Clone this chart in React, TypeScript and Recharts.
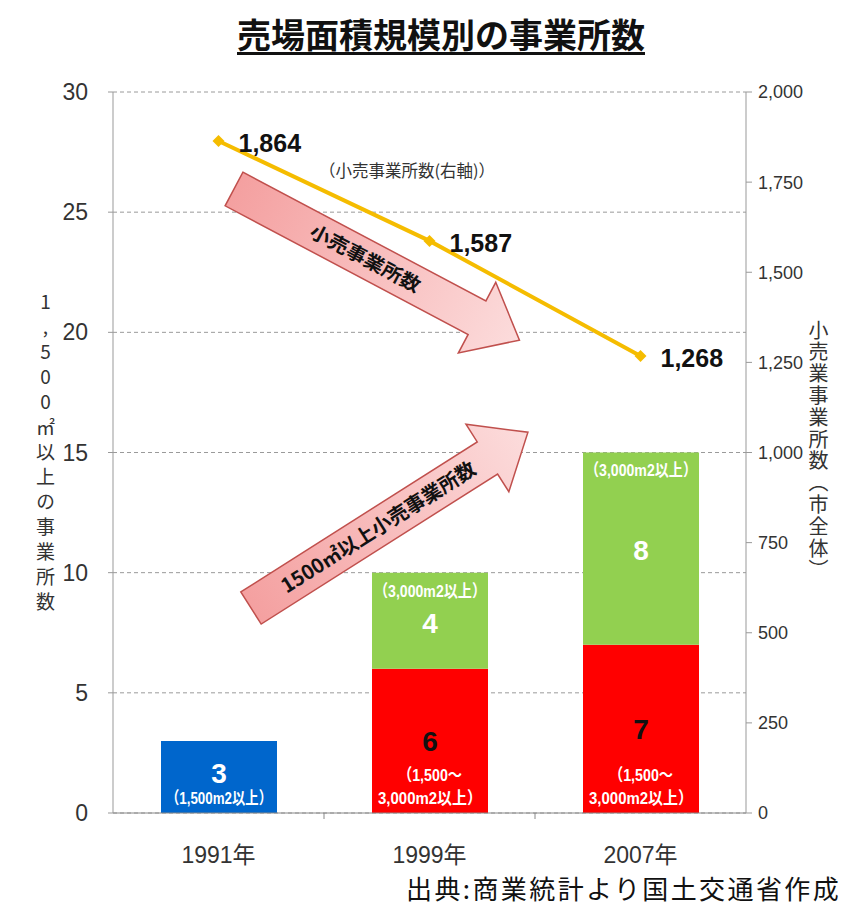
import React from "react";
import {
  ComposedChart,
  Bar,
  Line,
  XAxis,
  YAxis,
  CartesianGrid,
  LabelList,
} from "recharts";

// values
const years = ["1991年", "1999年", "2007年"];
const over1500 = [3, null, null];
const from1500to3000 = [null, 6, 7];
const over3000 = [null, 4, 8];
const retailTotal = [1864, 1587, 1268];

const leftTicks = [0, 5, 10, 15, 20, 25, 30];
const rightTicks = [0, 250, 500, 750, 1000, 1250, 1500, 1750, 2000];

const blueCaption = "（1,500m2以上）";
const redCaption = ["（1,500～", "3,000m2以上）"];
const greenCaption = "（3,000m2以上）";

const data = years.map((year, i) => ({
  year,
  over1500: over1500[i],
  mid: from1500to3000[i],
  over3000: over3000[i],
  retail: retailTotal[i],
}));

const SANS = '"Liberation Sans", Arial, "Noto Sans CJK JP", sans-serif';
const JP = '"Noto Sans CJK JP", "Noto Sans CJK SC", sans-serif';
const GOLD = "#F5BC00";
const BAND = 211;

function box(p: any) {
  const vb = p.viewBox || {};
  return {
    x: p.x ?? vb.x,
    y: p.y ?? vb.y,
    width: p.width ?? vb.width,
    height: p.height ?? vb.height,
  };
}

const capStyle = {
  fontFamily: SANS,
  fontWeight: 700,
  fontSize: 17,
  fill: "#fff",
} as const;

const BlueLabel = (p: any) => {
  if (p.value == null) return null;
  const { x, y, width, height } = box(p);
  const cx = x + width / 2;
  const bottom = y + height;
  return (
    <g>
      <text x={cx} y={y + height / 2 - 4} dy="0.35em" textAnchor="middle" fill="#fff"
        fontFamily={SANS} fontWeight={700} fontSize={28}>{p.value}</text>
      <text x={cx} y={bottom - 15} dy="0.35em" textAnchor="middle" {...capStyle}
        textLength={106} lengthAdjust="spacingAndGlyphs">{blueCaption}</text>
    </g>
  );
};

const RedLabel = (p: any) => {
  if (p.value == null) return null;
  const { x, y, width, height } = box(p);
  const cx = x + width / 2;
  const bottom = y + height;
  return (
    <g>
      <text x={cx} y={y + height / 2} dy="0.35em" textAnchor="middle" fill="#111"
        fontFamily={SANS} fontWeight={700} fontSize={28}>{p.value}</text>
      <text x={cx} y={bottom - 38} dy="0.35em" textAnchor="middle" {...capStyle}
        textLength={64} lengthAdjust="spacingAndGlyphs">{redCaption[0]}</text>
      <text x={cx} y={bottom - 15} dy="0.35em" textAnchor="middle" {...capStyle}
        textLength={104} lengthAdjust="spacingAndGlyphs">{redCaption[1]}</text>
    </g>
  );
};

const GreenLabel = (p: any) => {
  if (p.value == null) return null;
  const { x, y, width, height } = box(p);
  const cx = x + width / 2;
  return (
    <g>
      <text x={cx} y={y + 18} dy="0.35em" textAnchor="middle" {...capStyle}
        textLength={112} lengthAdjust="spacingAndGlyphs">{greenCaption}</text>
      <text x={cx} y={y + height / 2 + 2} dy="0.35em" textAnchor="middle" fill="#fff"
        fontFamily={SANS} fontWeight={700} fontSize={28}>{p.value}</text>
    </g>
  );
};

const RetailLabel = (p: any) => {
  const { x, y } = box(p);
  return (
    <text x={x + 20} y={y + 2} dy="0.35em" fill="#111" fontFamily={SANS}
      fontWeight={700} fontSize={25}>
      {Number(p.value).toLocaleString("en-US")}
    </text>
  );
};

const Diamond = (p: any) => {
  const { cx, cy } = p;
  if (cx == null || cy == null) return null;
  const r = 6;
  return (
    <polygon
      points={`${cx},${cy - r} ${cx + r},${cy} ${cx},${cy + r} ${cx - r},${cy}`}
      fill={GOLD}
    />
  );
};

const YearTick = (p: any) => {
  const { x, y, payload, index } = p;
  return (
    <g>
      {index > 0 && (
        <line x1={x - BAND / 2} x2={x - BAND / 2} y1={y} y2={y + 6} stroke="#888" />
      )}
      <text x={x} y={y + 42} dy="0.35em" textAnchor="middle" fill="#333"
        fontFamily={SANS} fontSize={23}>{payload.value}</text>
    </g>
  );
};

function Arrow({ x, y, angle, length, shaft, head, headLen, label, fontSize, textLength, id }: any) {
  const s = shaft / 2;
  const h = head / 2;
  const b = length - headLen;
  const pts = `0,${-s} ${b},${-s} ${b},${-h} ${length},0 ${b},${h} ${b},${s} 0,${s}`;
  return (
    <g transform={`translate(${x},${y}) rotate(${angle})`}>
      <defs>
        <linearGradient id={id} x1="0" y1="0" x2="1" y2="0">
          <stop offset="0%" stopColor="#F4A0A0" />
          <stop offset="100%" stopColor="#FCDCDC" />
        </linearGradient>
      </defs>
      <polygon points={pts} fill={`url(#${id})`} stroke="#C0504D" strokeWidth={1.5} />
      <text x={length * 0.46} y={0} dy="0.36em" textAnchor="middle" fill="#111"
        fontFamily={JP} fontWeight={700} fontSize={fontSize}
        textLength={textLength} lengthAdjust="spacingAndGlyphs">{label}</text>
    </g>
  );
}

export default function App() {
  return (
    <div
      style={{
        position: "absolute",
        left: 0,
        top: 0,
        width: 854,
        height: 915,
        overflow: "hidden",
        background: "#fff",
      }}
    >
      <div
        style={{
          position: "absolute",
          left: 237,
          top: 14,
          fontFamily: JP,
          fontWeight: 700,
          fontSize: 34,
          lineHeight: "40px",
          color: "#111",
          textDecoration: "underline",
          textUnderlineOffset: 4,
          whiteSpace: "nowrap",
        }}
      >
        売場面積規模別の事業所数
      </div>

      <ComposedChart
        width={854}
        height={915}
        data={data}
        margin={{ top: 92, right: 0, bottom: 52, left: 0 }}
      >
        <CartesianGrid
          yAxisId="left"
          vertical={false}
          stroke="#9a9a9a"
          strokeDasharray="4 3"
        />
        <XAxis
          dataKey="year"
          height={50}
          axisLine={{ stroke: "#888" }}
          tickLine={false}
          tickSize={0}
          tickMargin={0}
          tick={<YearTick />}
        />
        <YAxis
          yAxisId="left"
          width={113}
          domain={[0, 30]}
          ticks={leftTicks}
          axisLine={{ stroke: "#999" }}
          tickLine={{ stroke: "#999" }}
          tickSize={5}
          tickMargin={20}
          tick={{ fill: "#333", fontSize: 23, fontFamily: SANS }}
        />
        <YAxis
          yAxisId="right"
          orientation="right"
          width={108}
          domain={[0, 2000]}
          ticks={rightTicks}
          axisLine={{ stroke: "#999" }}
          tickLine={{ stroke: "#999" }}
          tickSize={6}
          tickMargin={6}
          tickFormatter={(v: number) => v.toLocaleString("en-US")}
          tick={{ fill: "#333", fontSize: 18, fontFamily: SANS }}
        />
        <Bar yAxisId="left" dataKey="over1500" stackId="s" fill="#0066CC"
          barSize={116} isAnimationActive={false}>
          <LabelList dataKey="over1500" content={<BlueLabel />} />
        </Bar>
        <Bar yAxisId="left" dataKey="mid" stackId="s" fill="#FF0000"
          barSize={116} isAnimationActive={false}>
          <LabelList dataKey="mid" content={<RedLabel />} />
        </Bar>
        <Bar yAxisId="left" dataKey="over3000" stackId="s" fill="#92D050"
          barSize={116} isAnimationActive={false}>
          <LabelList dataKey="over3000" content={<GreenLabel />} />
        </Bar>
        <Line
          yAxisId="right"
          dataKey="retail"
          stroke={GOLD}
          strokeWidth={4}
          dot={<Diamond />}
          activeDot={false}
          isAnimationActive={false}
        >
          <LabelList dataKey="retail" content={<RetailLabel />} />
        </Line>
      </ComposedChart>

      <svg
        width={854}
        height={915}
        style={{ position: "absolute", left: 0, top: 0, pointerEvents: "none" }}
      >
        <Arrow id="ga1" x={234} y={189} angle={27.9} length={323} shaft={38}
          head={80} headLen={48} label="小売事業所数" fontSize={19} textLength={122} />
        <Arrow id="ga2" x={251} y={608} angle={-32.4} length={328} shaft={38}
          head={80} headLen={48} label="1500㎡以上小売事業所数" fontSize={20} textLength={226} />
        <text x={407} y={171} dy="0.35em" textAnchor="middle" fill="#333"
          fontFamily={JP} fontSize={16.5}>（小売事業所数(右軸)）</text>
      </svg>

      <div
        style={{
          position: "absolute",
          left: 34,
          top: 292,
          writingMode: "vertical-rl",
          textOrientation: "upright",
          fontFamily: JP,
          fontSize: 19,
          letterSpacing: 6,
          color: "#333",
          lineHeight: "22px",
        }}
      >
        1,500㎡以上の事業所数
      </div>
      <div
        style={{
          position: "absolute",
          left: 807,
          top: 320,
          writingMode: "vertical-rl",
          textOrientation: "upright",
          fontFamily: JP,
          fontSize: 20,
          letterSpacing: 1.8,
          color: "#333",
          lineHeight: "22px",
        }}
      >
        小売業事業所数（市全体）
      </div>
      <div
        style={{
          position: "absolute",
          left: 406,
          top: 872,
          fontFamily: JP,
          fontSize: 26,
          letterSpacing: 2.4,
          lineHeight: "32px",
          color: "#111",
          whiteSpace: "nowrap",
        }}
      >
        出典:商業統計より国土交通省作成
      </div>
    </div>
  );
}
